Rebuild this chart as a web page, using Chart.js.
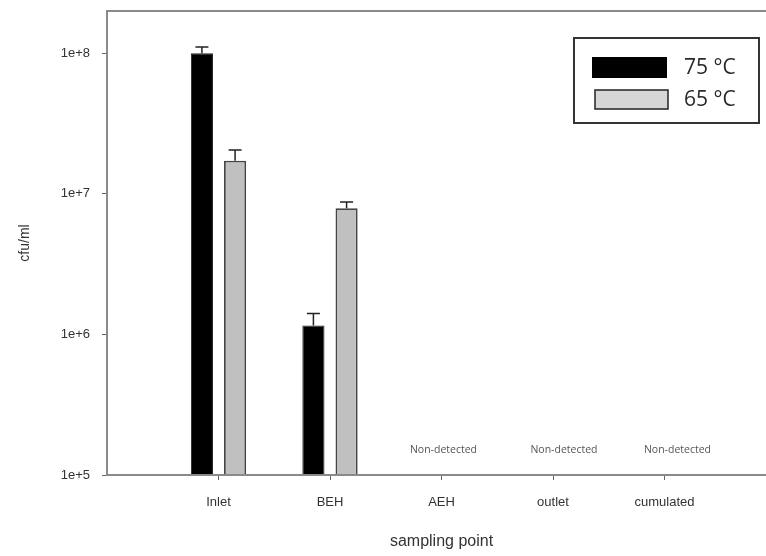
<!DOCTYPE html>
<html>
<head>
<meta charset="utf-8">
<script src="https://cdn.jsdelivr.net/npm/chart.js@4/dist/chart.umd.min.js"></script>
<style>
  html, body { margin: 0; padding: 0; background: #fff; overflow: hidden; }
  #wrap { width: 766px; height: 556px; overflow: hidden; position: relative; }
  canvas { display: block; }
</style>
</head>
<body>
<div id="wrap"><canvas id="c" width="780" height="556"></canvas></div>
<script>
// ---- data ----
const categories = ['Inlet', 'BEH', 'AEH', 'outlet', 'cumulated'];
const seriesLabels = ['75 \u00B0C', '65 \u00B0C'];
const values75 = [1.0e8, 1.16e6, null, null, null];
const values65 = [1.72e7, 7.9e6, null, null, null];
const errors75 = [1.1e7, 2.5e5, null, null, null];
const errors65 = [3.3e6, 8.5e5, null, null, null];
const yTickValues = [1e5, 1e6, 1e7, 1e8];
const yTickLabels = ['1e+5', '1e+6', '1e+7', '1e+8'];
const notDetectedText = 'Non-detected';
const notDetectedLevel = 1.5e5;
const xTitle = 'sampling point';
const yTitle = 'cfu/ml';

// padded axis (one empty slot each side)
const labels = [''].concat(categories, ['']);
const pad = arr => [null].concat(arr, [null]);
const errs = [pad(errors75), pad(errors65)];

const axisFont = { family: 'Liberation Sans, Arial, sans-serif', size: 13 };

const frame = {
  id: 'frame',
  afterDatasetsDraw(chart) {
    const a = chart.chartArea, ctx = chart.ctx;
    ctx.save();
    ctx.strokeStyle = '#8a8a8a';
    ctx.lineWidth = 2;
    ctx.strokeRect(a.left, a.top, a.right - a.left, a.bottom - a.top);
    ctx.restore();
  }
};

const errorBars = {
  id: 'errorBars',
  afterDatasetsDraw(chart) {
    const ctx = chart.ctx, y = chart.scales.y;
    ctx.save();
    ctx.strokeStyle = '#222';
    ctx.lineWidth = 1.5;
    chart.data.datasets.forEach((ds, di) => {
      const meta = chart.getDatasetMeta(di);
      meta.data.forEach((el, i) => {
        const v = ds.data[i], e = errs[di][i];
        if (v == null || e == null) return;
        const top = y.getPixelForValue(v + e);
        ctx.beginPath();
        ctx.moveTo(el.x, el.y);
        ctx.lineTo(el.x, top);
        ctx.moveTo(el.x - 6.5, top);
        ctx.lineTo(el.x + 6.5, top);
        ctx.stroke();
      });
    });
    ctx.restore();
  }
};

const notDetected = {
  id: 'notDetected',
  afterDatasetsDraw(chart) {
    const ctx = chart.ctx, x = chart.scales.x, y = chart.scales.y;
    const dx = [0, 0, 2, 11, 13];
    ctx.save();
    ctx.fillStyle = '#555';
    ctx.font = '10.5px "Open Sans", sans-serif';
    ctx.textAlign = 'center';
    ctx.textBaseline = 'middle';
    categories.forEach((c, i) => {
      if (values75[i] == null && values65[i] == null) {
        ctx.fillText(notDetectedText, x.getPixelForValue(i + 1) + dx[i], y.getPixelForValue(notDetectedLevel));
      }
    });
    ctx.restore();
  }
};

const legendBox = {
  id: 'legendBox',
  afterDraw(chart) {
    const ctx = chart.ctx;
    ctx.save();
    ctx.strokeStyle = '#333';
    ctx.lineWidth = 2;
    ctx.strokeRect(574, 38, 185, 85);
    ctx.fillStyle = '#000';
    ctx.fillRect(592, 57, 75, 21);
    ctx.fillStyle = '#d6d6d6';
    ctx.fillRect(595, 90, 73, 19);
    ctx.lineWidth = 1.5;
    ctx.strokeStyle = '#222';
    ctx.strokeRect(595, 90, 73, 19);
    ctx.fillStyle = '#2a2a2a';
    ctx.font = '21px "Open Sans", sans-serif';
    ctx.textAlign = 'left';
    ctx.textBaseline = 'middle';
    ctx.fillText(chart.data.datasets[0].label, 684, 68);
    ctx.fillText(chart.data.datasets[1].label, 684, 100);
    ctx.restore();
  }
};

new Chart(document.getElementById('c'), {
  type: 'bar',
  data: {
    labels: labels,
    datasets: [
      { label: seriesLabels[0], data: pad(values75), backgroundColor: '#000', borderColor: '#222', borderWidth: 1 },
      { label: seriesLabels[1], data: pad(values65), backgroundColor: '#c0c0c0', borderColor: '#444', borderWidth: 1.8 }
    ]
  },
  options: {
    responsive: false,
    animation: false,
    devicePixelRatio: 1,
    categoryPercentage: 0.595,
    barPercentage: 0.667,
    layout: { padding: { top: 11, right: 4, left: 0, bottom: 0 } },
    plugins: { legend: { display: false }, tooltip: { enabled: false } },
    scales: {
      x: {
        type: 'category',
        offset: false,
        afterFit(s) { s.height = 81; s.paddingLeft = 0; s.paddingRight = 0; },
        grid: {
          offset: false,
          drawOnChartArea: false, drawTicks: true, tickLength: 5,
          color: c => (c.index === 0 || c.index === labels.length - 1) ? 'rgba(0,0,0,0)' : '#666'
        },
        border: { display: false },
        ticks: { color: '#333', font: axisFont, padding: 15, maxRotation: 0, autoSkip: false },
        title: { display: true, text: xTitle, color: '#333', font: { family: 'Liberation Sans, Arial, sans-serif', size: 16 }, padding: { top: 0, bottom: 5 } }
      },
      y: {
        type: 'logarithmic',
        min: 1e5,
        max: 2e8,
        afterFit(s) { s.width = 107; s.paddingTop = 0; s.paddingBottom = 0; },
        afterBuildTicks(s) { s.ticks = yTickValues.map(v => ({ value: v })); },
        grid: { drawOnChartArea: false, drawTicks: true, tickLength: 5, color: '#666' },
        border: { display: false },
        ticks: {
          color: '#333', font: axisFont, padding: 12,
          callback: (v) => { const i = yTickValues.indexOf(v); return i >= 0 ? yTickLabels[i] : ''; }
        },
        title: { display: true, text: yTitle, color: '#333', font: { family: 'Liberation Sans, Arial, sans-serif', size: 14 }, padding: { top: 17, bottom: 0 } }
      }
    }
  },
  plugins: [frame, errorBars, notDetected, legendBox]
});
</script>
</body>
</html>
